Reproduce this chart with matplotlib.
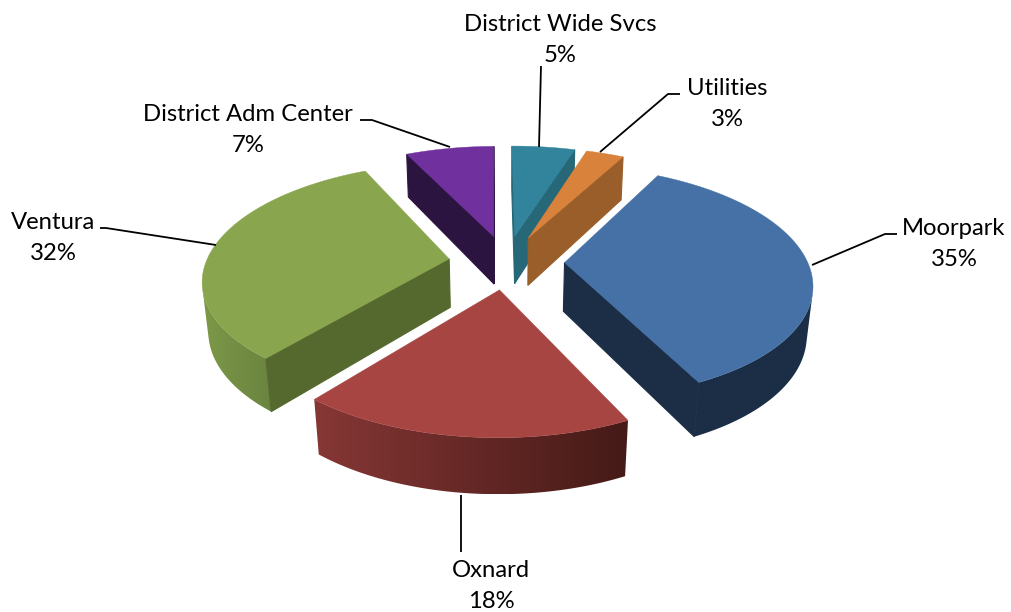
import numpy as np
import matplotlib
matplotlib.use('Agg')
import matplotlib.pyplot as plt
from matplotlib.colors import LinearSegmentedColormap
from matplotlib.patches import Polygon

# Data
labels = ['Moorpark', 'Oxnard', 'Ventura', 'District Adm Center', 'District Wide Svcs', 'Utilities']
values = [35, 18, 32, 7, 5, 3]
top_colors = ['#4571a6', '#a64542', '#89a54e', '#70309d', '#31849b', '#d8823c']
cut_colors = ['#1b2e46', '#451a17', '#55682e', '#2c1440', '#266778', '#995e2a']
wall_left = ['#1b2e46', '#863735', '#7c9847', '#2c1440', '#266778', '#995e2a']
wall_right = ['#1b2e46', '#451a17', '#6a8440', '#2c1440', '#266778', '#995e2a']
label_pos = [(954, 244), (491, 586), (53, 238), (248, 130), (560, 40), (727, 104)]
leaders = [[(812, 265), (885, 234), (897, 234)],
           [(461, 495), (461, 552)],
           [(216, 245), (106, 228), (100, 228)],
           [(450, 147), (372, 120), (360, 120)],
           [(539, 147), (541, 66)],
           [(600, 152), (668, 94), (680, 94)]]
draw_order = [3, 4, 5, 2, 0, 1]

# Projection settings
R = 243.0
H = 56.0
EXPLODE = 58.0
TILT = np.radians(27.7)
DIST = 1300.0
CX, CY = 506.5, 262.0
START = 28.3


def project(x, y, z):
    depth = y * np.cos(TILT) - z * np.sin(TILT)
    up = y * np.sin(TILT) + z * np.cos(TILT)
    s = DIST / (DIST + depth)
    return np.column_stack([CX + x * s, CY - up * s])


def area(poly):
    x, y = poly[:, 0], poly[:, 1]
    return 0.5 * np.sum(x * np.roll(y, -1) - np.roll(x, -1) * y)


fig = plt.figure(figsize=(10.11, 6.12), dpi=100)
ax = fig.add_axes([0, 0, 1, 1])
ax.axis('off')

edges = START + np.cumsum([0] + values) * 3.6

for i in draw_order:
    a0, a1 = edges[i], edges[i + 1]
    mid = np.radians((a0 + a1) / 2)
    ox, oy = EXPLODE * np.sin(mid), EXPLODE * np.cos(mid)
    th = np.radians(np.linspace(a0, a1, 120))
    xs = ox + R * np.sin(th)
    ys = oy + R * np.cos(th)
    upper = project(xs, ys, np.zeros(len(xs)))
    lower = project(xs, ys, np.full(len(xs), -H))

    # outer wall: only the part of the arc that faces the viewer
    facing = [area(np.vstack([upper[j:j + 2], lower[j:j + 2][::-1]])) < 0 for j in range(len(th) - 1)]
    if any(facing):
        idx = np.flatnonzero(facing)
        j0, j1 = idx[0], idx[-1] + 2
        wall = np.vstack([upper[j0:j1], lower[j0:j1][::-1]])
        cmap = LinearSegmentedColormap.from_list('wall', [wall_left[i], wall_right[i]])
        img = ax.imshow(np.linspace(0, 1, 256)[None, :], cmap=cmap, aspect='auto',
                        extent=[wall[:, 0].min(), wall[:, 0].max(), wall[:, 1].max(), wall[:, 1].min()])
        img.set_clip_path(Polygon(wall, transform=ax.transData))

    # cut faces, back facing ones are skipped
    for k in (0, -1):
        quad = np.vstack([project(np.array([ox, xs[k]]), np.array([oy, ys[k]]), np.zeros(2)),
                          project(np.array([xs[k], ox]), np.array([ys[k], oy]), np.full(2, -H))])
        sign = area(quad) * (1 if k == 0 else -1)
        if sign < 0:
            ax.fill(quad[:, 0], quad[:, 1], color=cut_colors[i], lw=0.8)

    top = np.vstack([project(np.array([ox]), np.array([oy]), np.zeros(1)), upper])
    ax.fill(top[:, 0], top[:, 1], color=top_colors[i], lw=0.3)

for i, name in enumerate(labels):
    pts = np.array(leaders[i])
    ax.plot(pts[:, 0], pts[:, 1], color='black', lw=1.3, solid_capstyle='butt')
    ax.text(label_pos[i][0], label_pos[i][1], f'{name}\n{values[i]}%', ha='center', va='center',
            family='Lato', fontsize=17.2, linespacing=1.53, color='black')

ax.set_xlim(0, 1011)
ax.set_ylim(612, 0)
fig.savefig('out.png', dpi=100)
